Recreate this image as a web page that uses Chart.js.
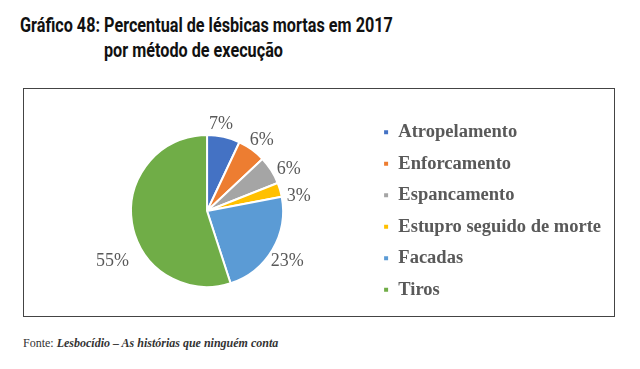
<!DOCTYPE html>
<html>
<head>
<meta charset="utf-8">
<script src="https://cdn.jsdelivr.net/npm/chart.js@4/dist/chart.umd.min.js"></script>
<style>
  body { margin: 0; background: #fff; width: 640px; height: 369px; position: relative; overflow: hidden; }
  .title { position: absolute; font-family: Roboto, sans-serif; font-weight: bold; font-size: 20px; color: #111;
           transform: scaleX(0.81); transform-origin: left top; white-space: nowrap; }
  #box { position: absolute; left: 23px; top: 88px; width: 590px; height: 227px; border: 1.5px solid #444; }
  #fonte { position: absolute; left: 23px; top: 336px; font-family: "Liberation Serif", serif; font-size: 12px; color: #333; }
  #fonte i { font-weight: bold; }
</style>
</head>
<body>
<div class="title" style="left:20px; top:13px;">Gráfico 48: Percentual de lésbicas mortas em 2017</div>
<div class="title" style="left:104px; top:38px;">por método de execução</div>
<div id="box"><canvas id="pieChart" width="590" height="227"></canvas></div>
<div id="fonte">Fonte: <i>Lesbocídio – As histórias que ninguém conta</i></div>
<script>
// values
const categories = ['Atropelamento', 'Enforcamento', 'Espancamento', 'Estupro seguido de morte', 'Facadas', 'Tiros'];
const percentages = [7, 6, 6, 3, 23, 55];
const sliceColors = ['#4472C4', '#ED7D31', '#A5A5A5', '#FFC000', '#5B9BD5', '#70AD47'];

// percent labels just outside each slice
// small turns (radians) / pushes (px) so they sit where the original put them
const labelTurn = { 0: -0.07, 2: 0.07, 3: 0.11, 4: 0.07, 5: -0.37 };
const labelPush = { 5: 12 };
const outsideLabels = {
  id: 'outsideLabels',
  afterDatasetsDraw(chart) {
    const ctx = chart.ctx;
    const meta = chart.getDatasetMeta(0);
    ctx.save();
    ctx.font = '18px "Liberation Serif", serif';
    ctx.fillStyle = '#595959';
    ctx.textAlign = 'center';
    ctx.textBaseline = 'middle';
    meta.data.forEach((arc, i) => {
      const p = arc.getProps(['x', 'y', 'startAngle', 'endAngle', 'outerRadius'], true);
      const mid = (p.startAngle + p.endAngle) / 2 + (labelTurn[i] || 0);
      const dx = Math.cos(mid), dy = Math.sin(mid);
      const text = percentages[i] + '%';
      const w = ctx.measureText(text).width, h = 14;
      const r = p.outerRadius + 5 + (labelPush[i] || 0);
      ctx.fillText(text, p.x + dx * r + dx * w / 2, p.y + dy * r + dy * h / 2);
    });
    ctx.restore();
  }
};

new Chart(document.getElementById('pieChart').getContext('2d'), {
  type: 'pie',
  data: {
    labels: categories,
    datasets: [{
      data: percentages,
      backgroundColor: sliceColors,
      borderColor: '#fff',
      borderWidth: 2
    }]
  },
  options: {
    responsive: false,
    animation: false,
    radius: 76,
    layout: { padding: { left: 20, right: 3, top: 17, bottom: 0 } },
    plugins: {
      legend: {
        position: 'right',
        align: 'center',
        labels: {
          boxWidth: 6,
          boxHeight: 6,
          padding: 13,
          color: '#595959',
          font: { family: '"Liberation Serif", serif', size: 18.5, weight: 'bold' }
        }
      },
      tooltip: { enabled: false }
    }
  },
  plugins: [outsideLabels]
});
</script>
</body>
</html>
